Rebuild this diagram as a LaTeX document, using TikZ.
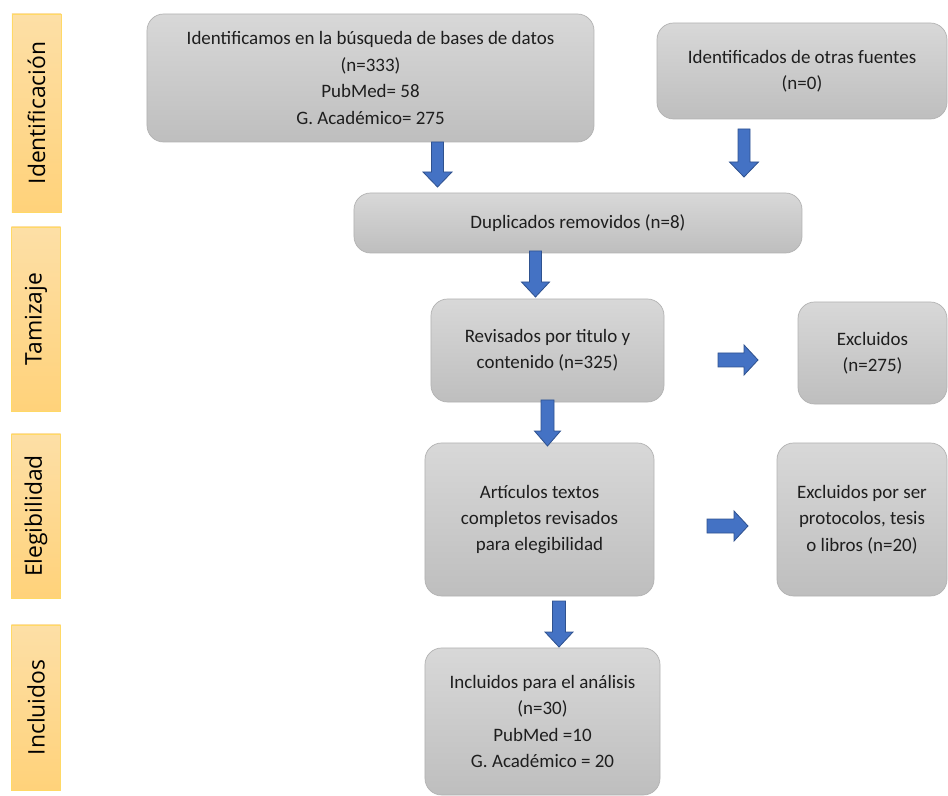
\documentclass[tikz,border=0pt]{standalone}
\usepackage{fontspec}
\setmainfont{Carlito}
\newfontfamily\etapafont{Open Sans}

\definecolor{cajaarriba}{RGB}{216,216,216}
\definecolor{cajaabajo}{RGB}{190,190,190}
\definecolor{cajaborde}{RGB}{178,178,178}
\definecolor{texto}{RGB}{30,30,30}
\definecolor{etapaizq}{RGB}{253,223,166}
\definecolor{etapader}{RGB}{255,210,122}
\definecolor{etapaborde}{RGB}{255,217,102}
\definecolor{flechaazul}{RGB}{68,114,196}
\definecolor{flechaborde}{RGB}{47,82,143}

\tikzset{
  caja/.style={rectangle, rounded corners=0.5cm, draw=cajaborde, line width=0.6pt, top color=cajaarriba, bottom color=cajaabajo, text=texto, align=center, inner sep=0pt, font=\fontsize{16.2}{22.5}\selectfont},
  etapa/.style={rectangle, rotate=90, draw=etapaborde, line width=0.8pt, top color=etapaizq, bottom color=etapader, minimum height=1.47cm, inner sep=0pt, font=\etapafont\fontsize{19.5}{24}\selectfont},
  flecha/.style={draw=flechaborde, fill=flechaazul, line width=0.7pt, line join=miter}
}

\begin{document}
\begin{tikzpicture}[x=0.03cm, y=-0.03cm]
    \useasboundingbox (0,0) rectangle (948,796);

    % etapas
    \draw (36.5,113) node(identificacion)[etapa, minimum width=5.94cm]{Identificación};
    \draw (36,319) node(tamizaje)[etapa, minimum width=5.52cm]{Tamizaje};
    \draw (36,516) node(elegibilidad)[etapa, minimum width=4.92cm]{Elegibilidad};
    \draw (36,707.5) node(incluidos)[etapa, minimum width=4.95cm]{Incluidos};

    % cajas
    \draw (370.5,78) node(busqueda)[caja, minimum width=13.41cm, minimum height=3.84cm]{Identificamos en la búsqueda de bases de datos\\(n=333)\\PubMed= 58\\G. Académico= 275};
    \draw (802,71) node(otras)[caja, minimum width=8.7cm, minimum height=2.88cm]{Identificados de otras fuentes\\(n=0)};
    \draw (578,223) node(duplicados)[caja, minimum width=13.44cm, minimum height=1.8cm]{Duplicados removidos (n=8)};
    \draw (547.5,350.5) node(revisados)[caja, minimum width=6.99cm, minimum height=3.09cm]{Revisados por titulo y\\contenido (n=325)};
    \draw (872.5,353) node(excluidos)[caja, minimum width=4.47cm, minimum height=3.06cm]{Excluidos\\(n=275)};
    \draw (539.5,519.5) node(articulos)[caja, minimum width=6.87cm, minimum height=4.59cm]{Artículos textos\\completos revisados\\para elegibilidad};
    \draw (862,519.5) node(excluidos2)[caja, minimum width=5.1cm, minimum height=4.59cm]{Excluidos por ser\\protocolos, tesis\\o libros (n=20)};
    \draw (542.5,721.5) node(analisis)[caja, minimum width=7.05cm, minimum height=4.41cm]{Incluidos para el análisis\\(n=30)\\PubMed =10\\G. Académico = 20};

    % flechas de bloque
    \filldraw[flecha] (431.5,142) -- ++(12,0) -- ++(0,30) -- ++(8.5,0) -- ++(-14.5,15) -- ++(-14.5,-15) -- ++(8.5,0) -- cycle;
    \filldraw[flecha] (738,129) -- ++(12,0) -- ++(0,33) -- ++(8.5,0) -- ++(-14.5,15) -- ++(-14.5,-15) -- ++(8.5,0) -- cycle;
    \filldraw[flecha] (529.5,251) -- ++(12,0) -- ++(0,31) -- ++(8,0) -- ++(-14,15) -- ++(-14,-15) -- ++(8,0) -- cycle;
    \filldraw[flecha] (541,400) -- ++(13,0) -- ++(0,31) -- ++(6.5,0) -- ++(-13,15) -- ++(-13,-15) -- ++(6.5,0) -- cycle;
    \filldraw[flecha] (552.5,601) -- ++(13,0) -- ++(0,31) -- ++(7.5,0) -- ++(-14,15) -- ++(-14,-15) -- ++(7.5,0) -- cycle;
    \filldraw[flecha] (718,353) -- ++(26,0) -- ++(0,-8) -- ++(14,15) -- ++(-14,15) -- ++(0,-8) -- ++(-26,0) -- cycle;
    \filldraw[flecha] (707,519) -- ++(27,0) -- ++(0,-8) -- ++(14,15) -- ++(-14,15) -- ++(0,-8) -- ++(-27,0) -- cycle;
\end{tikzpicture}
\end{document}
